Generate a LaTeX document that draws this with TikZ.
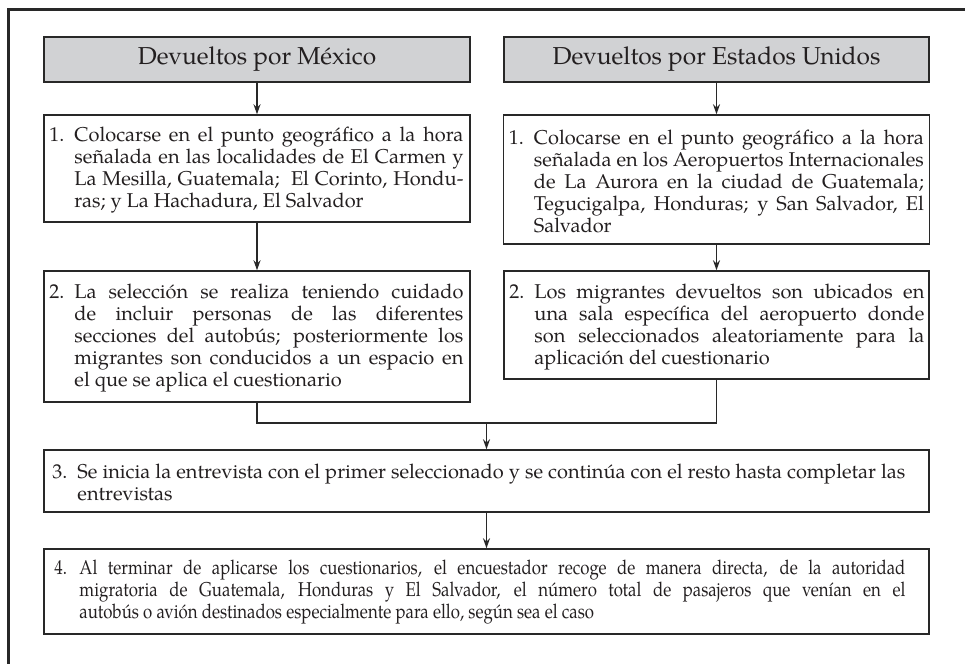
\documentclass[tikz,border=0pt]{standalone}
\usepackage{fontspec}
\setmainfont{texgyrepagella}[Extension=.otf, UprightFont=*-regular, BoldFont=*-bold, ItalicFont=*-italic, BoldItalicFont=*-bolditalic]
\newfontfamily\condfont{texgyrepagella}[Extension=.otf, UprightFont=*-regular, FakeStretch=0.84]
\usetikzlibrary{arrows.meta}
\definecolor{hdr}{RGB}{209,210,212}
\definecolor{ink}{RGB}{35,31,32}
\definecolor{ln}{RGB}{40,40,40}
\newlength{\hangw}\setlength{\hangw}{25pt}
\newcommand{\fline}[3]{\hbox to #1{\hbox to \hangw{#2\hfil}\makebox[\dimexpr#1-\hangw\relax][s]{#3}}}
\newcommand{\mline}[2]{\hbox to #1{\hskip\hangw\makebox[\dimexpr#1-\hangw\relax][s]{#2}}}
\newcommand{\lline}[2]{\hbox to #1{\hskip\hangw #2\hfil}}
\newcommand{\bodyfont}{\fontsize{20}{22}\selectfont}
\tikzset{
  x=1pt, y=-1pt,
  boxnode/.style={draw=ln, line width=1.5pt, inner sep=0pt, text=ink},
  headnode/.style={boxnode, fill=hdr, minimum height=45pt, font=\fontsize{24.5}{28}\selectfont},
  txtnode/.style={inner sep=0pt, anchor=west, text=ink},
  conn/.style={draw=ln, line width=1.4pt},
  arr/.style={conn, -{Stealth[length=10pt,width=7pt,inset=3.5pt]}},
}
\begin{document}
\begin{tikzpicture}
\useasboundingbox (0,0) rectangle (965,663);
\fill[white] (0,0) rectangle (965,663);
% frame
\draw[line width=3pt, ln] (970,10) -- (8,10) -- (8,670);
% headers
\node[headnode, minimum width=426pt] (hA) at (257,59.5) {Devueltos por México};
\node[headnode, minimum width=425pt] (hB) at (716.5,59.5) {Devueltos por Estados Unidos};
% boxes
\node[boxnode, minimum width=426pt, minimum height=107pt] (b1L) at (257,168.5) {};
\node[boxnode, minimum width=426pt, minimum height=129pt] (b1R) at (716.5,179.5) {};
\node[boxnode, minimum width=426pt, minimum height=131pt] (b2L) at (257,336.5) {};
\node[boxnode, minimum width=425pt, minimum height=108pt] (b2R) at (716.5,325) {};
\node[boxnode, minimum width=885pt, minimum height=62pt] (b3) at (486.5,481) {};
\node[boxnode, minimum width=885pt, minimum height=85pt] (b4) at (486.5,591.5) {};
% texts
\node[txtnode] (t1L) at ([xshift=6pt,yshift=-2pt]b1L.west) {\vbox{\bodyfont
  \fline{414pt}{1.}{Colocarse en el punto geográfico a la hora}
  \mline{414pt}{señalada en las localidades de El Carmen y}
  \mline{414pt}{La Mesilla, Guatemala;\ \ El Corinto, Hondu-}
  \lline{414pt}{ras; y La Hachadura, El Salvador}}};
\node[txtnode] (t1R) at ([xshift=6pt,yshift=-2pt]b1R.west) {\vbox{\bodyfont
  \fline{415pt}{1.}{Colocarse en el punto geográfico a la hora}
  \mline{415pt}{señalada en los Aeropuertos Internacionales}
  \mline{415pt}{de La Aurora en la ciudad de Guatemala;}
  \mline{415pt}{Tegucigalpa, Honduras; y San Salvador, El}
  \lline{415pt}{Salvador}}};
\node[txtnode] (t2L) at ([xshift=6pt,yshift=-2pt]b2L.west) {\vbox{\bodyfont
  \fline{414pt}{2.}{La selección se realiza teniendo cuidado}
  \mline{414pt}{de incluir personas de las diferentes}
  \mline{414pt}{secciones del autobús; posteriormente los}
  \mline{414pt}{migrantes son conducidos a un espacio en}
  \lline{414pt}{el que se aplica el cuestionario}}};
\node[txtnode] (t2R) at ([xshift=6pt,yshift=-2pt]b2R.west) {\vbox{\bodyfont
  \fline{415pt}{2.}{Los migrantes devueltos son ubicados en}
  \mline{415pt}{una sala específica del aeropuerto donde}
  \mline{415pt}{son seleccionados aleatoriamente para la}
  \lline{415pt}{aplicación del cuestionario}}};
\node[txtnode] (t3) at ([xshift=9pt,yshift=-1pt]b3.west) {\vbox{\bodyfont
  \fline{853pt}{3.}{Se inicia la entrevista con el primer seleccionado y se continúa con el resto hasta completar las}
  \lline{853pt}{entrevistas}}};
\node[txtnode] (t4) at ([xshift=11pt,yshift=-1pt]b4.west) {\vbox{\bodyfont\condfont
  \fline{851pt}{4.}{Al terminar de aplicarse los cuestionarios, el encuestador recoge de manera directa, de la autoridad}
  \mline{851pt}{migratoria de Guatemala, Honduras y El Salvador, el número total de pasajeros que venían en el}
  \lline{851pt}{autobús o avión destinados especialmente para ello, según sea el caso}}};
% connectors
\coordinate (m) at (486.5,423);
\draw[arr] (hA.south) -- (b1L.north);
\draw[arr] (hB.south) -- (b1R.north);
\draw[arr] (b1L.south) -- (b2L.north);
\draw[arr] (b1R.south) -- (b2R.north);
\draw[conn] (b2L.south) |- (m) -| (b2R.south);
\draw[arr] (m) -- (m |- b3.north);
\draw[arr] (b3.south) -- (b4.north);
\end{tikzpicture}
\end{document}
